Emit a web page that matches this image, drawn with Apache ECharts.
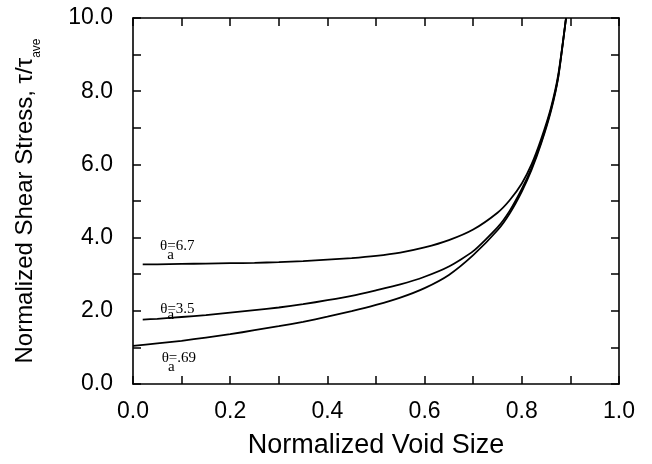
<!DOCTYPE html>
<html>
<head>
<meta charset="utf-8">
<script src="https://cdn.jsdelivr.net/npm/echarts@6/dist/echarts.min.js"></script>
<style>
html,body{margin:0;padding:0;background:#fff;}
#chart{width:652px;height:464px;}
</style>
</head>
<body>
<div id="chart"></div>
<script>
// Normalized void size (x) per curve
const x67 = [0.02, 0.05, 0.1, 0.15, 0.2, 0.25, 0.3, 0.35, 0.4, 0.45, 0.5, 0.55, 0.6, 0.65, 0.7, 0.75, 0.775, 0.8, 0.82, 0.84, 0.86, 0.875, 0.891];
const x35 = [0.02, 0.05, 0.1, 0.15, 0.2, 0.25, 0.3, 0.35, 0.4, 0.45, 0.5, 0.55, 0.6, 0.65, 0.7, 0.75, 0.775, 0.8, 0.82, 0.84, 0.86, 0.875, 0.891];
const x069 = [0.0, 0.05, 0.1, 0.15, 0.2, 0.25, 0.3, 0.35, 0.4, 0.45, 0.5, 0.55, 0.6, 0.65, 0.7, 0.75, 0.775, 0.8, 0.82, 0.84, 0.86, 0.875, 0.891];
// Normalized shear stress
const y67 = [3.27, 3.27, 3.28, 3.29, 3.30, 3.31, 3.33, 3.36, 3.40, 3.44, 3.50, 3.59, 3.73, 3.93, 4.22, 4.68, 5.02, 5.48, 6.00, 6.70, 7.55, 8.45, 10.0];
const y35 = [1.76, 1.78, 1.83, 1.88, 1.95, 2.02, 2.09, 2.18, 2.29, 2.41, 2.56, 2.72, 2.93, 3.21, 3.63, 4.28, 4.73, 5.33, 5.90, 6.62, 7.50, 8.40, 10.0];
const y069 = [1.04, 1.11, 1.18, 1.27, 1.36, 1.47, 1.58, 1.70, 1.84, 1.99, 2.16, 2.36, 2.62, 2.98, 3.52, 4.20, 4.66, 5.26, 5.85, 6.58, 7.46, 8.38, 10.0];
// Curve labels (theta_a values)
const curveLabels = ['6.7', '3.5', '.69'];
// Tick labels
const xTicks = ['0.0', '0.2', '0.4', '0.6', '0.8', '1.0'];
const yTicks = ['0.0', '2.0', '4.0', '6.0', '8.0', '10.0'];

// label anchor positions in data space: [theta x, theta y, sub x, sub y]
const labelAnchors = [
  [0.0556, 3.78, 0.0772, 3.51],
  [0.0560, 2.06, 0.0780, 1.89],
  [0.0590, 0.71, 0.0790, 0.46]
];

const pairs = (xs, ys) => xs.map((v, i) => [v, ys[i]]);

function markFor(idx) {
  const a = labelAnchors[idx];
  const serif = 'Liberation Serif';
  return {
    symbol: 'circle', symbolSize: 0, silent: true,
    data: [
      { coord: [a[0], a[1]], label: { show: true, position: [0, 0], align: 'left', verticalAlign: 'middle',
          formatter: 'θ=' + curveLabels[idx], fontFamily: serif, fontSize: 15, color: '#000' } },
      { coord: [a[2], a[3]], label: { show: true, position: [0, 0], align: 'center', verticalAlign: 'middle',
          formatter: 'a', fontFamily: serif, fontSize: 15, color: '#000' } }
    ]
  };
}

const lineStyle = { color: '#000', width: 1.8 };
const font = 'Liberation Sans';

const chart = echarts.init(document.getElementById('chart'), null, { renderer: 'canvas' });

const axisCommon = {
  type: 'value',
  axisLine: { show: true, onZero: false, lineStyle: { color: '#000', width: 1.6 } },
  axisTick: { show: true, inside: true, length: 8, lineStyle: { color: '#000', width: 1.5 } },
  minorTick: { show: true, splitNumber: 2, length: 8, lineStyle: { color: '#000', width: 1.5 } },
  splitLine: { show: false },
  minorSplitLine: { show: false }
};

chart.setOption({
  animation: false,
  backgroundColor: '#fff',
  grid: { left: 133, right: 33, top: 18, bottom: 77, containLabel: false },
  xAxis: [
    Object.assign({}, axisCommon, {
      min: 0, max: 1, interval: 0.2, position: 'bottom',
      name: 'Normalized Void Size', nameLocation: 'middle', nameGap: 48,
      nameTextStyle: { fontFamily: font, fontSize: 27, color: '#000' },
      axisLabel: { show: true, margin: 16, fontFamily: font, fontSize: 23, color: '#000',
        formatter: v => xTicks[Math.round(v / 0.2)] }
    }),
    Object.assign({}, axisCommon, {
      min: 0, max: 1, interval: 0.2, position: 'top', axisLabel: { show: false }
    })
  ],
  yAxis: [
    Object.assign({}, axisCommon, {
      min: 0, max: 10, interval: 2, position: 'left',
      name: '{m|Normalized Shear Stress, τ/τ}{s|ave}', nameLocation: 'middle', nameGap: 90, nameRotate: 90,
      nameTextStyle: { color: '#000',
        rich: {
          m: { fontFamily: font, fontSize: 24, color: '#000', verticalAlign: 'top', lineHeight: 30 },
          s: { fontFamily: font, fontSize: 12, color: '#000', verticalAlign: 'bottom', lineHeight: 30 }
        } },
      axisLabel: { show: true, margin: 20, fontFamily: font, fontSize: 23, color: '#000',
        formatter: v => yTicks[Math.round(v / 2)] }
    }),
    Object.assign({}, axisCommon, {
      min: 0, max: 10, interval: 2, position: 'right', axisLabel: { show: false }
    })
  ],
  series: [
    { type: 'line', data: pairs(x67, y67), showSymbol: false, symbol: 'none', smooth: 0.2,
      lineStyle: lineStyle, markPoint: markFor(0) },
    { type: 'line', data: pairs(x35, y35), showSymbol: false, symbol: 'none', smooth: 0.2,
      lineStyle: lineStyle, markPoint: markFor(1) },
    { type: 'line', data: pairs(x069, y069), showSymbol: false, symbol: 'none', smooth: 0.2,
      lineStyle: lineStyle, markPoint: markFor(2) }
  ]
});
</script>
</body>
</html>
